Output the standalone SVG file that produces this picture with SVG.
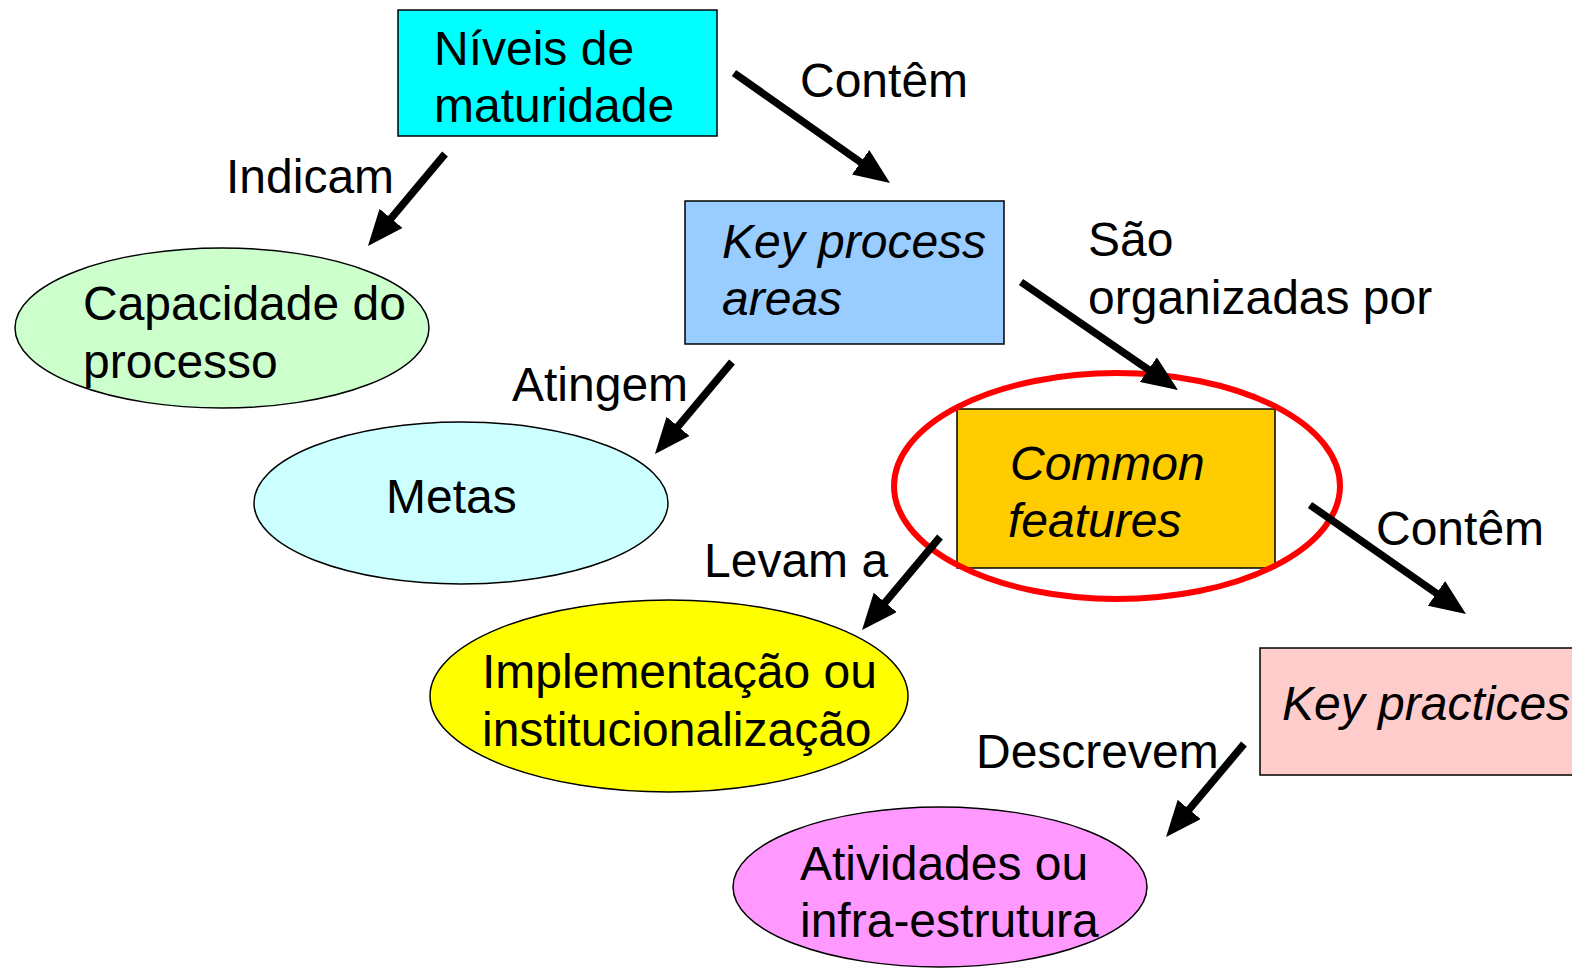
<svg xmlns="http://www.w3.org/2000/svg" width="1572" height="968" viewBox="0 0 1572 968">
<defs>
<style>
text{font-family:"Liberation Sans",Arial,sans-serif;font-size:48px;fill:#000}
.it{font-style:italic}
.box{stroke:#000;stroke-width:1.5}
.ell{stroke:#000;stroke-width:1.5}
.conn{stroke:#000;stroke-width:7.5;fill:none;marker-end:url(#ah)}
</style>
<marker id="ah" viewBox="0 0 36 30" refX="16" refY="15" markerWidth="36" markerHeight="30" markerUnits="userSpaceOnUse" orient="auto">
<path d="M0,0 L36,15 L0,30 z" fill="#000"/>
</marker>
</defs>
<rect width="1572" height="968" fill="#fff"/>
<g id="n-niveis">
<rect class="box" x="398" y="10" width="319" height="126" fill="#00FFFF"/>
<text x="434" y="65">Níveis de</text>
<text x="434" y="122">maturidade</text>
</g>
<g id="n-kpa">
<rect class="box" x="685" y="201" width="319" height="143" fill="#99CCFF"/>
<text class="it" x="722" y="258">Key process</text>
<text class="it" x="722" y="315">areas</text>
</g>
<g id="n-common">
<rect class="box" x="957" y="409" width="318" height="159" fill="#FFCC00"/>
<text class="it" x="1010" y="480">Common</text>
<text class="it" x="1008" y="537">features</text>
</g>
<g id="n-highlight">
<ellipse cx="1117" cy="486" rx="223" ry="113" fill="none" stroke="#FF0000" stroke-width="6"/>
</g>
<g id="n-keypractices">
<rect class="box" x="1260" y="648" width="320" height="127" fill="#FFCCCC"/>
<text class="it" x="1282" y="720">Key practices</text>
</g>
<g id="n-capacidade">
<ellipse class="ell" cx="222" cy="328" rx="207" ry="80" fill="#CCFFCC"/>
<text x="83" y="320">Capacidade do</text>
<text x="83" y="378">processo</text>
</g>
<g id="n-metas">
<ellipse class="ell" cx="461" cy="503" rx="207" ry="81" fill="#CCFFFF"/>
<text x="386" y="513">Metas</text>
</g>
<g id="n-implementacao">
<ellipse class="ell" cx="669" cy="696" rx="239" ry="96" fill="#FFFF00"/>
<text x="482" y="688">Implementação ou</text>
<text x="482" y="746">institucionalização</text>
</g>
<g id="n-atividades">
<ellipse class="ell" cx="940" cy="887" rx="207" ry="80" fill="#FF99FF"/>
<text x="800" y="880">Atividades ou</text>
<text x="800" y="937">infra-estrutura</text>
</g>
<g id="connectors">
<line class="conn" x1="445" y1="154" x2="380.8" y2="230.7"/>
<line class="conn" x1="734" y1="73" x2="873.7" y2="171.5"/>
<line class="conn" x1="732" y1="362" x2="667.8" y2="438.7"/>
<line class="conn" x1="1021" y1="282" x2="1161.5" y2="378.7"/>
<line class="conn" x1="940" y1="537" x2="874.9" y2="614.7"/>
<line class="conn" x1="1310" y1="505" x2="1449.6" y2="602.5"/>
<line class="conn" x1="1244" y1="744" x2="1178.9" y2="821.7"/>
<text x="226" y="193">Indicam</text>
<text x="800" y="97">Contêm</text>
<text x="1088" y="256">São</text>
<text x="1088" y="314">organizadas por</text>
<text x="512" y="401">Atingem</text>
<text x="704" y="577">Levam a</text>
<text x="1376" y="545">Contêm</text>
<text x="976" y="768">Descrevem</text>
</g>
</svg>
